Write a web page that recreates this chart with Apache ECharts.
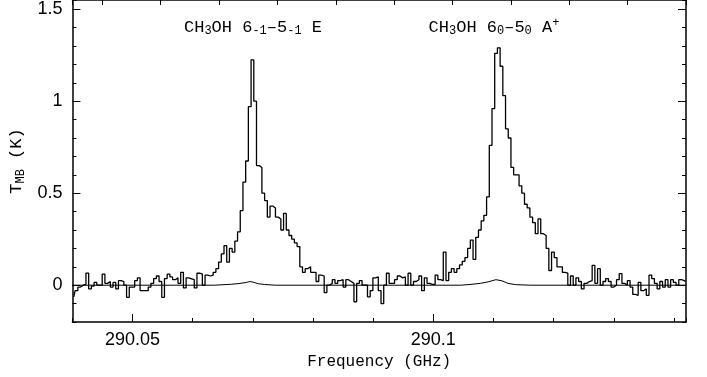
<!DOCTYPE html>
<html><head><meta charset="utf-8">
<script src="https://cdn.jsdelivr.net/npm/echarts@6/dist/echarts.min.js"></script>
<style>html,body{margin:0;padding:0;background:#fff}#c{width:707px;height:377px}</style>
</head><body><div id="c"></div>
<script>
// Spectral channel grid (GHz)
const chanStart = 290.04;
const chanWidth = 0.00045;
// Observed main-beam temperature per channel (K)
const spectrumT = [
 -0.063, -0.03, -0.01, 0.0, 0.005, 0.066, -0.02, -0.005, 0.015, 0.0,
 0.0, 0.06, 0.01, 0.02, -0.01, 0.015, -0.02, 0.025, 0.02, 0.0,
 -0.066, -0.01, -0.01, 0.025, 0.04, -0.03, -0.03, -0.03, -0.01, 0.01,
 0.036, 0.05, 0.02, -0.066, 0.036, 0.06, 0.045, 0.03, 0.04, 0.01,
 0.07, -0.015, 0.04, 0.035, 0.03, -0.015, 0.065, 0.06, 0.0, 0.055,
 0.05, 0.055, 0.07, 0.09, 0.125, 0.17, 0.215, 0.125, 0.2, 0.18,
 0.24, 0.29, 0.405, 0.56, 0.675, 0.97, 1.225, 1.0, 0.65, 0.64,
 0.5, 0.46, 0.37, 0.43, 0.42, 0.37, 0.36, 0.30, 0.39, 0.30,
 0.27, 0.25, 0.23, 0.21, 0.10, 0.07, 0.09, 0.10, 0.07, 0.07,
 0.02, 0.055, 0.05, -0.04, 0.0, 0.01, 0.03, 0.01, 0.025, 0.03,
 -0.01, 0.03, 0.02, 0.01, -0.09, 0.01, 0.025, 0.0, 0.0, -0.063,
 -0.03, 0.04, 0.045, -0.03, -0.1, 0.0, 0.065, 0.01, 0.01, 0.03,
 0.05, 0.04, 0.045, 0.0, 0.065, 0.0, 0.02, 0.03, 0.05, -0.03,
 0.04, 0.01, 0.005, 0.005, 0.055, 0.03, 0.025, 0.18, 0.025, 0.07,
 0.09, 0.07, 0.09, 0.11, 0.13, 0.15, 0.2, 0.245, 0.14, 0.26,
 0.30, 0.35, 0.38, 0.48, 0.76, 0.96, 1.26, 1.29, 1.19, 1.03,
 0.85, 0.8, 0.64, 0.6, 0.6, 0.54, 0.5, 0.44, 0.42, 0.37,
 0.34, 0.28, 0.36, 0.28, 0.27, 0.2, 0.08, 0.18, 0.15, 0.1,
 0.1, 0.07, 0.065, 0.0, 0.05, 0.0, 0.04, 0.02, -0.02, 0.01,
 0.02, 0.025, 0.108, 0.01, 0.09, 0.0, 0.02, 0.036, 0.02, -0.01,
 0.0, 0.03, 0.063, 0.01, 0.0, 0.025, -0.01, -0.05, -0.055, 0.015,
 -0.03, -0.02, -0.055, 0.055, 0.036, 0.01, -0.02, 0.02, -0.01, 0.03,
 -0.01, 0.03, 0.015, 0.0, 0.03, 0.025, 0.02
];
// Second (weak) spectrum / model
const modelFreq = [290.04, 290.0636, 290.0664, 290.0677, 290.0689, 290.0695, 290.0700, 290.0709, 290.0719, 290.0738,
                   290.1045, 290.1061, 290.1078, 290.1091, 290.1104, 290.1114, 290.1124, 290.1137, 290.1161, 290.142];
const modelT    = [0, 0, 0.005, 0.009, 0.015, 0.02, 0.017, 0.008, 0.004, 0,
                   0, 0.004, 0.01, 0.018, 0.03, 0.024, 0.01, 0.003, 0, 0];
const xMajorTicks = [290.05, 290.1];
const yMajorTicks = [0, 0.5, 1, 1.5];

const monoFont = 'Liberation Mono';
const sansFont = 'Liberation Sans';

const specData = spectrumT.map((t, i) => [chanStart + chanWidth * (i + 0.5), t]);
const modelData = modelFreq.map((f, i) => [f, modelT[i]]);

const xMin = 290.04, xMax = 290.142, yMin = -0.2, yMax = 1.55;
const isMult = (v, step) => Math.abs(v / step - Math.round(v / step)) < 1e-6;

const subRich = {
  n: { fontFamily: monoFont, fontSize: 17, lineHeight: 20, color: '#000' },
  s: { fontFamily: monoFont, fontSize: 12, lineHeight: 12, verticalAlign: 'bottom', color: '#000' },
  p: { fontFamily: monoFont, fontSize: 12, lineHeight: 4, verticalAlign: 'top', color: '#000' }
};

const chart = echarts.init(document.getElementById('c'), null, { renderer: 'canvas' });
chart.setOption({
  animation: false,
  backgroundColor: '#fff',
  grid: { left: 70, right: 21, top: -2, bottom: 55 },
  xAxis: [
    { type: 'value', position: 'bottom', min: xMin, max: xMax, interval: 0.01,
      axisLine: { show: true, onZero: false, lineStyle: { color: '#000', width: 1.5 } },
      axisTick: { inside: true, length: 4, lineStyle: { color: '#000', width: 1 } },
      axisLabel: { margin: 9, fontFamily: sansFont, fontSize: 18, color: '#000',
        formatter: v => isMult(v, 0.05) ? String(Math.round(v * 1000) / 1000) : '' },
      splitLine: { show: false },
      name: 'Frequency (GHz)', nameLocation: 'middle', nameGap: 28,
      nameTextStyle: { fontFamily: monoFont, fontSize: 16, color: '#000', verticalAlign: 'top' } },
    { type: 'value', position: 'bottom', min: xMin, max: xMax,
      axisLine: { show: false, onZero: false },
      axisTick: { inside: true, length: 8, customValues: xMajorTicks, lineStyle: { color: '#000', width: 1 } },
      axisLabel: { show: false }, splitLine: { show: false } },
    { type: 'value', position: 'top', inverse: true, min: -60, max: 45.12, interval: 10,
      axisLine: { show: true, onZero: false, lineStyle: { color: '#000', width: 1.5 } },
      axisTick: { inside: true, length: 5, lineStyle: { color: '#000', width: 1 } },
      axisLabel: { show: false }, splitLine: { show: false } }
  ],
  yAxis: [
    { type: 'value', position: 'left', min: yMin, max: yMax, interval: 0.1,
      axisLine: { show: true, onZero: false, lineStyle: { color: '#000', width: 1.5 } },
      axisTick: { inside: true, length: 4, lineStyle: { color: '#000', width: 1 } },
      axisLabel: { margin: 10, fontFamily: sansFont, fontSize: 18, color: '#000',
        formatter: v => isMult(v, 0.5) ? String(Math.round(v * 10) / 10) : '' },
      splitLine: { show: false },
      name: '{n|T}{s|MB}{n| (K)}', nameLocation: 'middle', nameGap: 44, nameRotate: 90,
      nameTextStyle: { rich: subRich } },
    { type: 'value', position: 'left', min: yMin, max: yMax,
      axisLine: { show: false, onZero: false },
      axisTick: { inside: true, length: 8, customValues: yMajorTicks, lineStyle: { color: '#000', width: 1 } },
      axisLabel: { show: false }, splitLine: { show: false } },
    { type: 'value', position: 'right', min: yMin, max: yMax, interval: 0.1,
      axisLine: { show: true, onZero: false, lineStyle: { color: '#000', width: 1.5 } },
      axisTick: { inside: true, length: 4, lineStyle: { color: '#000', width: 1 } },
      axisLabel: { show: false }, splitLine: { show: false } },
    { type: 'value', position: 'right', min: yMin, max: yMax,
      axisLine: { show: false, onZero: false },
      axisTick: { inside: true, length: 8, customValues: yMajorTicks, lineStyle: { color: '#000', width: 1 } },
      axisLabel: { show: false }, splitLine: { show: false } }
  ],
  series: [
    { type: 'line', data: modelData, xAxisIndex: 0, yAxisIndex: 0, showSymbol: false,
      lineStyle: { color: '#000', width: 1 }, silent: true },
    { type: 'line', data: specData, xAxisIndex: 0, yAxisIndex: 0, step: 'middle', showSymbol: false,
      lineStyle: { color: '#000', width: 1.3 }, silent: true }
  ],
  graphic: [
    { type: 'text', x: 253, y: 27,
      style: { text: '{n|CH}{s|3}{n|OH 6}{s|-1}{n|\u20135}{s|-1}{n| E}', rich: subRich, align: 'center', verticalAlign: 'middle' } },
    { type: 'text', x: 494, y: 27,
      style: { text: '{n|CH}{s|3}{n|OH 6}{s|0}{n|\u20135}{s|0}{n| A}{p|+}', rich: subRich, align: 'center', verticalAlign: 'middle' } }
  ]
});
</script>
</body></html>
